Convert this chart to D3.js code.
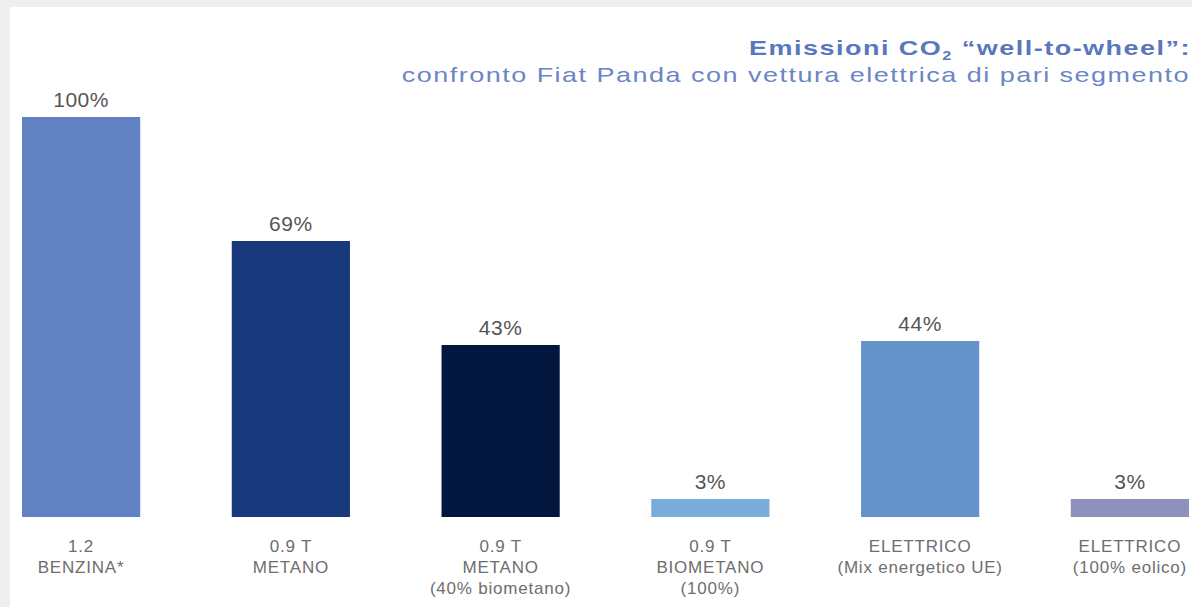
<!DOCTYPE html>
<html>
<head>
<meta charset="utf-8">
<script src="https://cdn.jsdelivr.net/npm/d3@7"></script>
<style>
  html, body { margin: 0; padding: 0; background: #efefef; }
  svg { display: block; }
</style>
</head>
<body>
<svg id="chart" width="1192" height="607"></svg>
<script>
// ---- data ----
const categories = ["benzina", "metano", "metano40", "biometano", "elettricoUE", "elettricoEolico"];
const values = [100, 69, 43, 3, 44, 3];
const valueLabels = ["100%", "69%", "43%", "3%", "44%", "3%"];
const categoryLabels = [
  ["1.2", "BENZINA*"],
  ["0.9 T", "METANO"],
  ["0.9 T", "METANO", "(40% biometano)"],
  ["0.9 T", "BIOMETANO", "(100%)"],
  ["ELETTRICO", "(Mix energetico UE)"],
  ["ELETTRICO", "(100% eolico)"]
];
const barColors = ["#6282c3", "#183a7d", "#03163d", "#79acd9", "#6593cc", "#8f91bd"];
const titleText = "Emissioni CO";
const titleSub = "2";
const titleRest = " \u201cwell-to-wheel\u201d:";
const subtitleText = "confronto Fiat Panda con vettura elettrica di pari segmento";

// ---- layout ----
const W = 1192, H = 607;
const svg = d3.select("#chart");
svg.append("rect").attr("x", 0).attr("y", 0).attr("width", W).attr("height", H).attr("fill", "#efefef");
svg.append("rect").attr("x", 10).attr("y", 7).attr("width", W - 10).attr("height", H - 7).attr("fill", "#ffffff");

const x = d3.scaleBand().domain(categories).range([22, 1189]).paddingInner(0.4365).paddingOuter(0);
const y = d3.scaleLinear().domain([0, 100]).range([517, 117]);
const minBarH = 18;

const data = categories.map((c, i) => ({ c, v: values[i], label: valueLabels[i], cat: categoryLabels[i], color: barColors[i] }));
const barTop = d => Math.min(y(d.v), y(0) - minBarH);

const g = svg.append("g");
g.selectAll("rect.bar").data(data).join("rect")
  .attr("class", "bar")
  .attr("x", d => x(d.c))
  .attr("y", d => barTop(d))
  .attr("width", x.bandwidth())
  .attr("height", d => y(0) - barTop(d))
  .attr("fill", d => d.color);

g.selectAll("text.val").data(data).join("text")
  .attr("class", "val")
  .attr("x", d => x(d.c) + x.bandwidth() / 2)
  .attr("y", d => barTop(d) - 10)
  .attr("text-anchor", "middle")
  .attr("font-family", "'Liberation Sans', Arial, sans-serif")
  .attr("font-size", 21)
  .attr("letter-spacing", "0.5px")
  .attr("fill", "#555555")
  .text(d => d.label);

const catG = g.selectAll("text.cat").data(data).join("text")
  .attr("class", "cat")
  .attr("text-anchor", "middle")
  .attr("font-family", "'Liberation Sans', Arial, sans-serif")
  .attr("font-size", 17)
  .attr("letter-spacing", "0.8px")
  .attr("fill", "#6e6e6e");
catG.each(function(d) {
  const t = d3.select(this);
  const cx = x(d.c) + x.bandwidth() / 2;
  d.cat.forEach((line, j) => {
    t.append("tspan").attr("x", cx).attr("y", y(0) + 35 + j * 21).text(line);
  });
});

// ---- title ----
const tg = svg.append("g").attr("transform", "translate(1191,55) scale(1.35,1)");
const title = tg.append("text")
  .attr("x", 0).attr("y", 0)
  .attr("text-anchor", "end")
  .attr("font-family", "'Liberation Sans', Arial, sans-serif")
  .attr("font-weight", "bold")
  .attr("font-size", 20)
  .attr("letter-spacing", "1.1px")
  .attr("fill", "#5877bd");
title.append("tspan").text(titleText);
title.append("tspan").attr("font-size", 12).attr("dy", 5).text(titleSub);
title.append("tspan").attr("dy", -5).text(titleRest);

const sg = svg.append("g").attr("transform", "translate(1190,82) scale(1.35,1)");
sg.append("text")
  .attr("x", 0).attr("y", 0)
  .attr("text-anchor", "end")
  .attr("font-family", "'Liberation Sans', Arial, sans-serif")
  .attr("font-size", 20)
  .attr("letter-spacing", "1.1px")
  .attr("fill", "#6a86c4")
  .text(subtitleText);
</script>
</body>
</html>
